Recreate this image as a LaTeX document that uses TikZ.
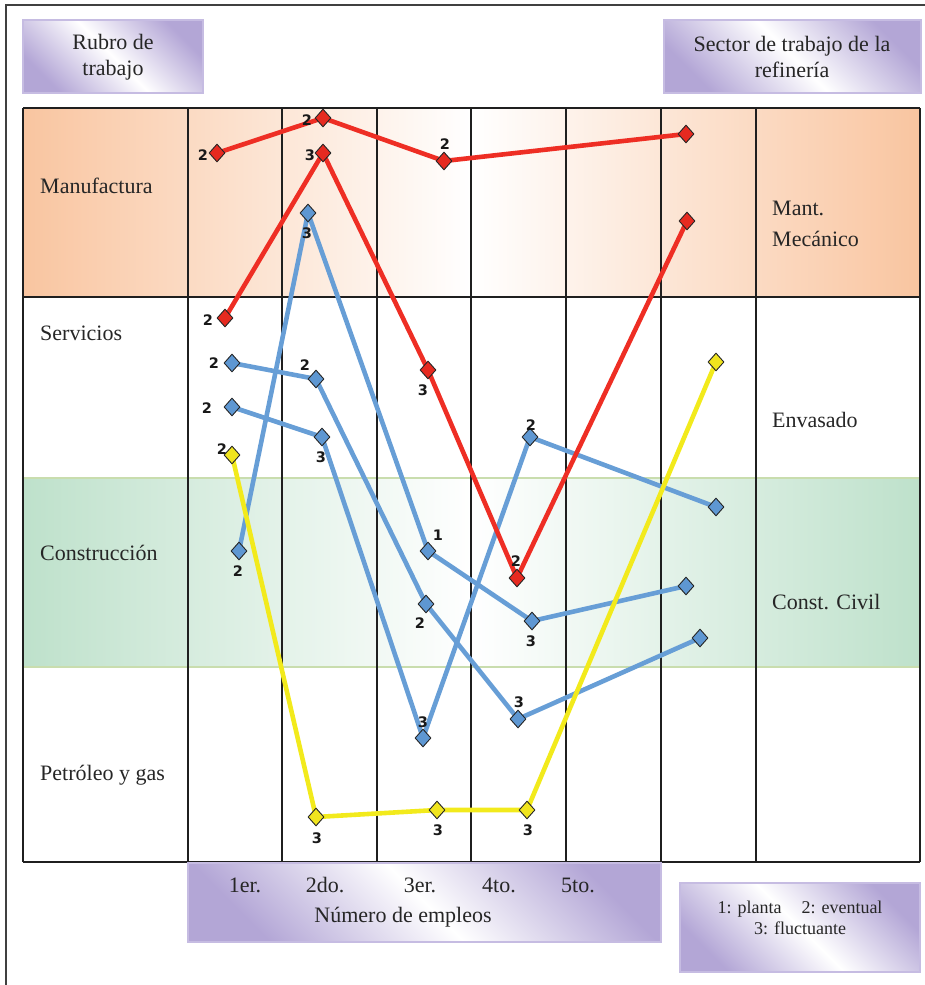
\documentclass[tikz,border=0pt]{standalone}
\usepackage{fontspec}
\setmainfont{Liberation Serif}
\newfontfamily\numfont{DejaVu Sans}
\usetikzlibrary{shapes.geometric}
\definecolor{lav}{HTML}{B3A6D6}
\definecolor{lavedge}{HTML}{C6BCE2}
\definecolor{peach}{HTML}{F9C5A0}
\definecolor{mint}{HTML}{BEE1CB}
\definecolor{mintedge}{HTML}{C9DDAE}
\definecolor{lred}{HTML}{EE2E24}
\definecolor{lblue}{HTML}{679ED6}
\definecolor{lyellow}{HTML}{F2EA1C}
\definecolor{dred}{HTML}{E62A20}
\definecolor{dblue}{HTML}{5E97D2}
\definecolor{dyellow}{HTML}{F0E41E}
\pgfdeclarelayer{bg}
\pgfdeclarelayer{lines}
\pgfsetlayers{bg,lines,main}
\begin{document}
\begin{tikzpicture}[x=1pt,y=-1pt,
  lbl/.style={font=\fontsize{22}{26}\selectfont, inner sep=0pt, text=black!85},
  small/.style={font=\fontsize{18}{21}\selectfont, inner sep=0pt, text=black!85},
  num/.style={font=\numfont\bfseries\fontsize{14.5}{14.5}\selectfont, inner sep=0pt, text=black!90},
  mk/.style={diamond, draw=black!85, line width=0.9pt, minimum width=16pt, minimum height=18pt, inner sep=0pt},
  rmk/.style={mk, fill=dred},
  bmk/.style={mk, fill=dblue},
  ymk/.style={mk, fill=dyellow},
  rline/.style={draw=lred, line width=4.6pt, line join=round},
  bline/.style={draw=lblue, line width=4.6pt, line join=round},
  yline/.style={draw=lyellow, line width=4.6pt, line join=round},
  lavbox/.style={left color=lav, right color=lav, middle color=white, shading angle=135},
  grid/.style={draw=black!88, line width=1.6pt}
]
\useasboundingbox (0,0) rectangle (925,985);

\begin{pgfonlayer}{bg}
% outer frame
\draw[black!75, line width=1.5pt] (6,985) -- (6,5) -- (925,5);
% header boxes
\shade[lavbox] (23,20) rectangle (203,93);
\draw[lavedge, line width=1.5pt] (23,20) rectangle (203,93);
\shade[lavbox] (664,20) rectangle (921,93);
\draw[lavedge, line width=1.5pt] (664,20) rectangle (921,93);
% row fills
\shade[left color=peach, right color=peach, middle color=white] (23,108) rectangle (920,297);
\shade[left color=mint, right color=mint, middle color=white] (23,478) rectangle (920,667);
\draw[mintedge, line width=1.8pt] (23,478) -- (920,478);
\draw[mintedge, line width=1.8pt] (23,667) -- (920,667);
% grid
\foreach \gx in {23,188,282,377,471,566,661,756,920}
  \draw[grid] (\gx,108) -- (\gx,862);
\draw[black!88, line width=2.6pt] (23,108) -- (920,108);
\draw[grid] (23,297) -- (920,297);
\draw[grid] (23,862) -- (920,862);
% bottom boxes
\shade[lavbox] (188,862) rectangle (661,942);
\draw[lavedge, line width=1.5pt] (188,863) rectangle (661,942);
\shade[lavbox] (680,883) rectangle (920,972);
\draw[lavedge, line width=1.5pt] (680,883) rectangle (920,972);
\end{pgfonlayer}

% header texts
\node[lbl, align=center] (rubro) at (113,57) {Rubro de\\trabajo};
\node[lbl, align=center] (sector) at (792,57) {Sector de trabajo de la\\refinería};

% row labels
\node[lbl, anchor=base west] (manu) at (40,193) {Manufactura};
\node[lbl, anchor=base west] (serv) at (40,340) {Servicios};
\node[lbl, anchor=base west] (cons) at (40,560) {Construcción};
\node[lbl, anchor=base west] (petr) at (40,780) {Petróleo y gas};

% sector labels
\node[lbl, anchor=base west] (mant) at (772,215) {Mant.};
\node[lbl, anchor=base west] (meca) at (772,246) {Mecánico};
\node[lbl, anchor=base west] (enva) at (772,427) {Envasado};
\node[lbl, anchor=base west] (civil) at (772,609) {Const. Civil};

% axis labels
\node[lbl, anchor=base] (c1) at (245,892) {1er.};
\node[lbl, anchor=base] (c2) at (325,892) {2do.};
\node[lbl, anchor=base] (c3) at (420,892) {3er.};
\node[lbl, anchor=base] (c4) at (499,892) {4to.};
\node[lbl, anchor=base] (c5) at (578,892) {5to.};
\node[lbl, anchor=base] (nemp) at (403,922) {Número de empleos};

% legend
\node[small, anchor=base] (leg1) at (800,913) {1: planta\hspace{20pt}2: eventual};
\node[small, anchor=base] (leg2) at (800,934) {3: fluctuante};

% markers: red
\node[rmk] (r1) at (217,153) {};
\node[rmk] (r2) at (323,118) {};
\node[rmk] (r3) at (444,161) {};
\node[rmk] (r4) at (686,134) {};
\node[rmk] (r5) at (225,318) {};
\node[rmk] (r6) at (323,153) {};
\node[rmk] (r7) at (428,370) {};
\node[rmk] (r8) at (517,578) {};
\node[rmk] (r9) at (687,221) {};
% markers: blue
\node[bmk] (b1) at (239,551) {};
\node[bmk] (b2) at (308,213) {};
\node[bmk] (b3) at (428,551) {};
\node[bmk] (b4) at (532,621) {};
\node[bmk] (b5) at (686,586) {};
\node[bmk] (b6) at (232,363) {};
\node[bmk] (b7) at (316,379) {};
\node[bmk] (b8) at (426,604) {};
\node[bmk] (b9) at (518,719) {};
\node[bmk] (b10) at (700,638) {};
\node[bmk] (b11) at (232,407) {};
\node[bmk] (b12) at (322,437) {};
\node[bmk] (b13) at (423,738) {};
\node[bmk] (b14) at (530,437) {};
\node[bmk] (b15) at (716,507) {};
% markers: yellow
\node[ymk] (y1) at (232,455) {};
\node[ymk] (y2) at (316,817) {};
\node[ymk] (y3) at (437,810) {};
\node[ymk] (y4) at (527,810) {};
\node[ymk] (y5) at (716,362) {};

% connectors
\begin{pgfonlayer}{lines}
\draw[bline] (b1.center) -- (b2.center) -- (b3.center) -- (b4.center) -- (b5.center);
\draw[bline] (b6.center) -- (b7.center) -- (b8.center) -- (b9.center) -- (b10.center);
\draw[bline] (b11.center) -- (b12.center) -- (b13.center) -- (b14.center) -- (b15.center);
\draw[rline] (r1.center) -- (r2.center) -- (r3.center) -- (r4.center);
\draw[rline] (r5.center) -- (r6.center) -- (r7.center) -- (r8.center) -- (r9.center);
\draw[yline] (y1.center) -- (y2.center) -- (y3.center) -- (y4.center) -- (y5.center);
\end{pgfonlayer}

% marker numbers
\node[num] (nr1) at (203,155) {2};
\node[num] (nr2) at (307,120) {2};
\node[num] (nr3) at (445,144) {2};
\node[num] (nr5) at (208,320) {2};
\node[num] (nr6) at (310,155) {3};
\node[num] (nr7) at (423,390) {3};
\node[num] (nr8) at (516,561) {2};
\node[num] (nb1) at (238,571) {2};
\node[num] (nb2) at (307,233) {3};
\node[num] (nb3) at (438,535) {1};
\node[num] (nb4) at (531,641) {3};
\node[num] (nb6) at (214,363) {2};
\node[num] (nb7) at (305,365) {2};
\node[num] (nb8) at (420,623) {2};
\node[num] (nb9) at (519,702) {3};
\node[num] (nb11) at (207,408) {2};
\node[num] (nb12) at (321,457) {3};
\node[num] (nb13) at (423,722) {3};
\node[num] (nb14) at (531,425) {2};
\node[num] (ny1) at (222,449) {2};
\node[num] (ny2) at (317,838) {3};
\node[num] (ny3) at (438,830) {3};
\node[num] (ny4) at (528,830) {3};
\end{tikzpicture}
\end{document}
